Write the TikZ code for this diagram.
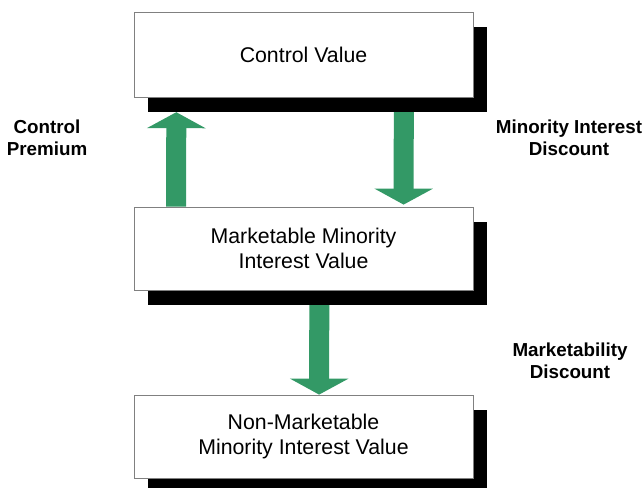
\documentclass[tikz,border=0pt]{standalone}
\usepackage{fontspec}
\setmainfont{Liberation Sans}
\usetikzlibrary{arrows.meta}
\definecolor{arrowgreen}{HTML}{339966}
\definecolor{boxline}{HTML}{808080}
\tikzset{
  valuebox/.style={draw=boxline, line width=0.8pt, fill=white, minimum width=339pt,
    minimum height=#1, inner sep=0pt, align=center,
    font=\fontsize{21.3}{25}\selectfont},
  valuebox/.default=83pt,
  shadowbox/.style={fill=black, minimum width=339pt, minimum height=#1, inner sep=0pt},
  shadowbox/.default=83pt,
  sidelabel/.style={align=center, font=\fontsize{18.8}{22}\selectfont\bfseries},
  blockarrow/.style={draw=arrowgreen, line width=20pt,
    -{Triangle[width=58pt,length=16pt]}},
}
\begin{document}
\begin{tikzpicture}[x=1pt,y=1pt]
  \useasboundingbox (0,0) rectangle (644,487);

  % drop shadows behind the value boxes
  \node[shadowbox=85pt] (cvs) at (317.5,417.5) {};
  \node[shadowbox] (mms) at (317.5,223.5) {};
  \node[shadowbox] (nms) at (317.5,35.5) {};

  % value boxes
  \node[valuebox=85pt] (cv) at (303.5,432.5) {Control Value};
  \node[valuebox] (mm) at (303.5,238.5) {Marketable Minority\\Interest Value};
  \node[valuebox] (nm) at (303.5,50.5) {Non-Marketable\\Minority Interest Value};

  % adjustments between the levels of value
  \draw[blockarrow] ([xshift=42.5pt]mm.north west) -- ([xshift=28.5pt]cvs.south west);
  \draw[blockarrow] ([xshift=256pt]cvs.south west) -- ([xshift=270pt,yshift=2pt]mm.north west);
  \draw[blockarrow] ([xshift=171.5pt]mms.south west) -- ([xshift=185.5pt]nm.north west);

  % labels
  \node[sidelabel] (cp) at (47,349) {Control\\Premium};
  \node[sidelabel] (mid) at (569,349) {Minority Interest\\Discount};
  \node[sidelabel] (md) at (570,126) {Marketability\\Discount};
\end{tikzpicture}
\end{document}
